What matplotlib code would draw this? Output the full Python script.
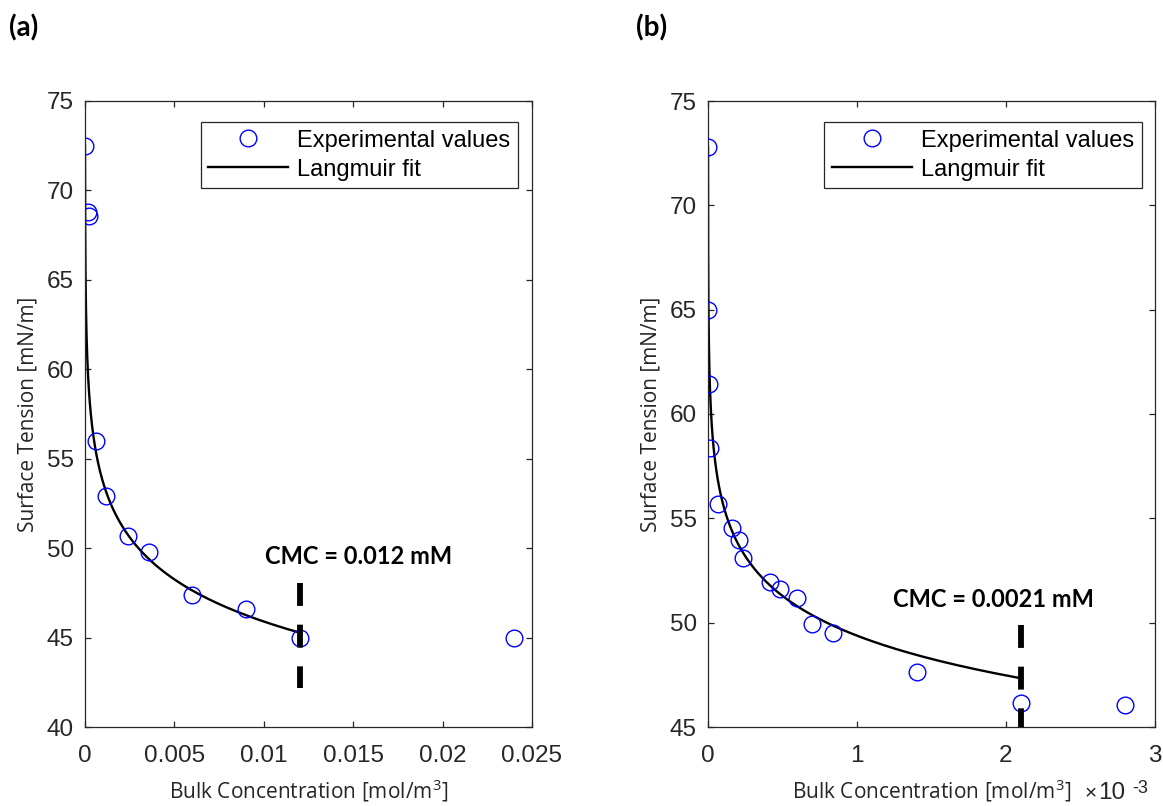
import matplotlib
matplotlib.use("Agg")
import matplotlib.pyplot as plt
import numpy as np
from matplotlib.ticker import FormatStrFormatter

# (a) surfactant A: bulk concentration [mol/m^3] and surface tension [mN/m]
conc_a = [0.0, 0.00015, 0.00025, 0.0006, 0.0012, 0.0024, 0.0036, 0.006, 0.009, 0.012, 0.024]
tension_a = [72.5, 68.8, 68.55, 56.0, 52.9, 50.7, 49.8, 47.4, 46.6, 45.0, 44.95]
# Szyszkowski-Langmuir fit parameters: gamma = gamma0 - slope * ln(1 + K c)
gamma0_a = 72.5
slope_a = 3.4
k_a = 2.5e5
cmc_a = 0.012
cmc_span_a = [48.05, 42.2]

# (b) surfactant B, concentrations in mol/m^3
conc_b = [0.0, 0.000001, 0.000006, 0.000016, 0.000065, 0.000158, 0.000209, 0.000237,
          0.000414, 0.000484, 0.000598, 0.000698, 0.00084, 0.0014, 0.0021, 0.0028]
tension_b = [72.8, 65.0, 61.45, 58.35, 55.7, 54.55, 53.95, 53.1,
             51.95, 51.6, 51.2, 49.95, 49.5, 47.65, 46.15, 46.05]
gamma0_b = 72.8
slope_b = 2.75
k_b = 5.0e6
cmc_b = 0.0021
cmc_span_b = [49.9, 45.0]

W, H = 1163, 806
AX_COLOR = "#262626"
TICK_FONT = "Liberation Sans"
LABEL_FONT = "Open Sans"
NOTE_FONT = "Lato"

plt.rcParams["mathtext.fontset"] = "custom"
plt.rcParams["mathtext.rm"] = LABEL_FONT
plt.rcParams["mathtext.it"] = LABEL_FONT


def langmuir(c, gamma0, slope, k):
    return gamma0 - slope * np.log1p(k * c)


def draw_panel(ax, conc, tension, gamma0, slope, k, cmc, cmc_span, scale,
               note_xy, legend_anchor):
    c = np.asarray(conc)
    fit_c = np.concatenate([[0.0], np.geomspace(cmc * 1e-6, cmc, 600)])
    ax.plot(c / scale, tension, "o", ls="none", mfc="none", mec="#0000ff",
            ms=12, mew=1.0, label="Experimental values", zorder=3)
    ax.plot(fit_c / scale, langmuir(fit_c, gamma0, slope, k), color="black",
            lw=1.7, label="Langmuir fit", zorder=2)
    ax.plot([cmc / scale, cmc / scale], cmc_span, color="black", lw=4.2,
            ls=(0, (16.5 / 4.2, 13.5 / 4.2)), solid_capstyle="butt",
            dash_capstyle="butt", zorder=4)
    ax.text(note_xy[0], note_xy[1], f"CMC = {cmc:g} mM", fontsize=17,
            fontweight="bold", family=NOTE_FONT, ha="left", va="baseline")

    leg = ax.legend(loc="upper right", bbox_to_anchor=legend_anchor,
                    borderaxespad=0, fancybox=False, framealpha=1,
                    edgecolor=AX_COLOR, handlelength=3.4, handletextpad=0.38,
                    borderpad=0.32, labelspacing=0.3,
                    prop={"family": TICK_FONT, "size": 17})
    leg.get_frame().set_linewidth(0.9)

    for side in ax.spines.values():
        side.set_color(AX_COLOR)
        side.set_linewidth(0.9)
    ax.tick_params(direction="in", top=True, right=True, length=4.5,
                   width=0.9, colors=AX_COLOR, labelsize=17.5)
    ax.tick_params(axis="x", pad=13)
    ax.tick_params(axis="y", pad=8)
    for lab in ax.get_xticklabels() + ax.get_yticklabels():
        lab.set_family(TICK_FONT)

    ax.set_ylabel("Surface Tension [mN/m]", family=LABEL_FONT, fontsize=15,
                  color=AX_COLOR)
    ax.yaxis.set_label_coords(-0.128, 0.5)
    ax.yaxis.label.set_va("center")
    ax.set_xlabel(r"Bulk Concentration [mol/m$^3$]", family=LABEL_FONT,
                  fontsize=15, color=AX_COLOR)
    ax.xaxis.set_label_coords(0.5, -0.115)
    ax.xaxis.label.set_va("baseline")


fig = plt.figure(figsize=(W / 100, H / 100), dpi=100)
ax_a = fig.add_axes([85 / W, 79 / H, 447 / W, 626 / H])
ax_b = fig.add_axes([708 / W, 79 / H, 447 / W, 626 / H])

ax_a.set_xlim(0, 0.025)
ax_a.set_ylim(40, 75)
ax_a.set_xticks([0, 0.005, 0.01, 0.015, 0.02, 0.025])
ax_a.set_yticks(range(40, 76, 5))
ax_a.xaxis.set_major_formatter(FormatStrFormatter("%g"))
draw_panel(ax_a, conc_a, tension_a, gamma0_a, slope_a, k_a, cmc_a, cmc_span_a,
           1.0, (0.01007, 49.11), (0.9687, 0.9665))

ax_b.set_xlim(0, 3)
ax_b.set_ylim(45, 75)
ax_b.set_xticks([0, 1, 2, 3])
ax_b.set_yticks(range(45, 76, 5))
draw_panel(ax_b, conc_b, tension_b, gamma0_b, slope_b, k_b, cmc_b, cmc_span_b,
           1e-3, (1.242, 50.76), (0.970, 0.9665))

# exponent of the x axis in panel (b)
ax_b.text(0.843, -0.115, "\u00d7", transform=ax_b.transAxes, fontsize=15,
          family=TICK_FONT, color=AX_COLOR, ha="left", va="baseline")
ax_b.text(0.873, -0.115, "10", transform=ax_b.transAxes, fontsize=17.5,
          family=TICK_FONT, color=AX_COLOR, ha="left", va="baseline")
ax_b.text(0.950, -0.106, "-3", transform=ax_b.transAxes, fontsize=13,
          family=TICK_FONT, color=AX_COLOR, ha="left", va="baseline")

fig.text(9 / W, 1 - 28 / H, "(a)", fontsize=20, fontweight="bold",
         family=NOTE_FONT, ha="left", va="center")
fig.text(636 / W, 1 - 28 / H, "(b)", fontsize=20, fontweight="bold",
         family=NOTE_FONT, ha="left", va="center")

fig.savefig("out.png", dpi=100)
